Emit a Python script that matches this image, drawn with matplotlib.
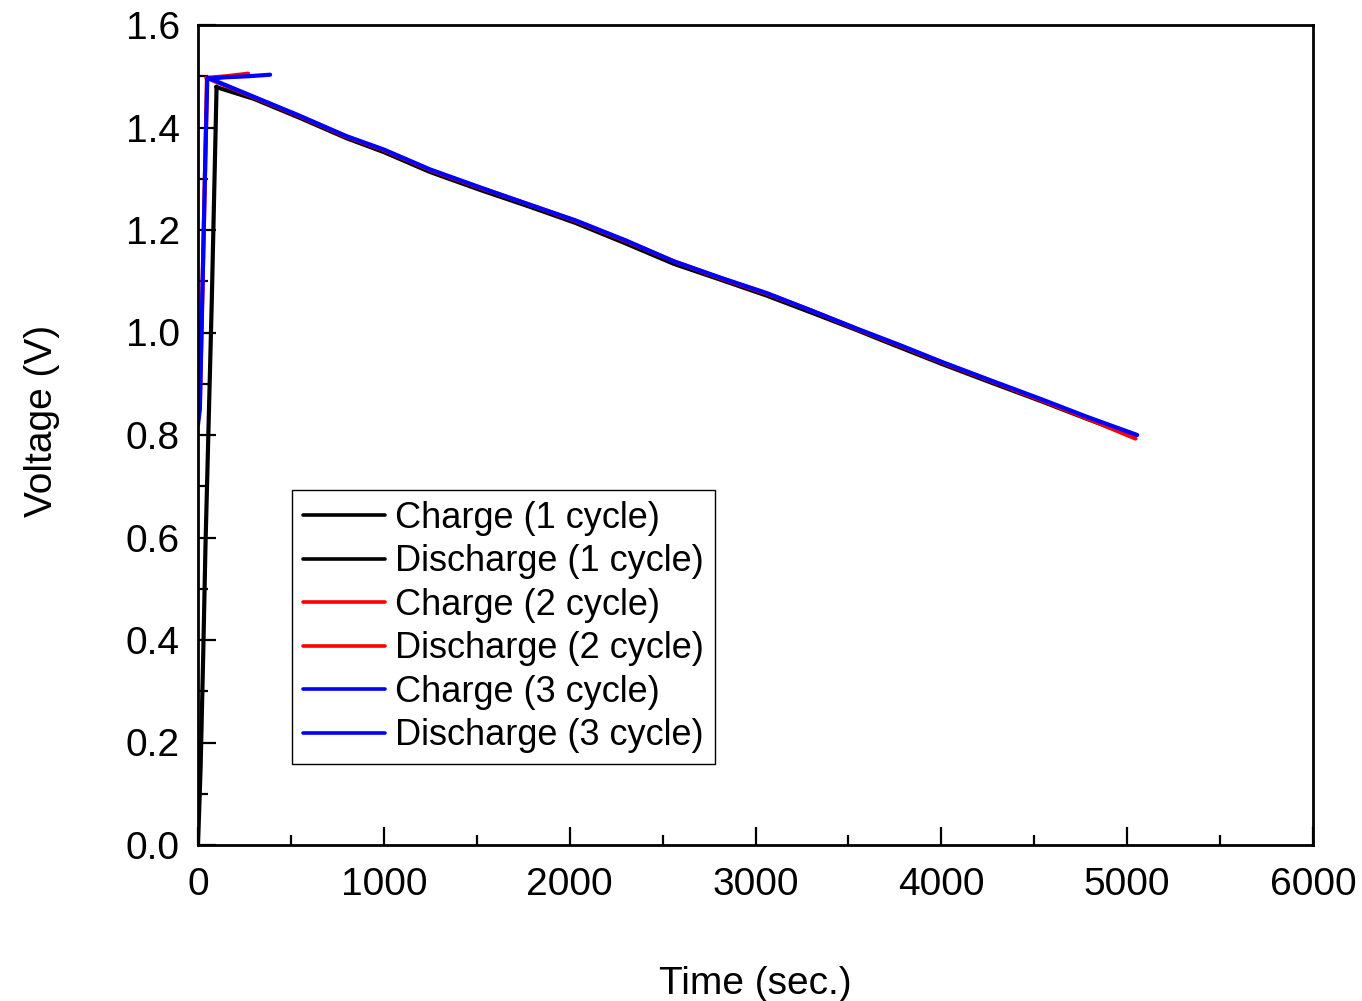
import matplotlib
matplotlib.use("Agg")
import matplotlib.pyplot as plt
from matplotlib.ticker import MultipleLocator

plt.rcParams['font.family'] = ['Liberation Sans', 'DejaVu Sans']

# ---- data ----
charge1_t = [0, 14, 28, 40, 57, 74, 100]
charge1_v = [0.0, 0.15, 0.37, 0.58, 0.82, 1.06, 1.48]

discharge1_t = [97, 300, 540, 800, 1000, 1250, 1520, 1780, 2030, 2300, 2560, 2820,
                3060, 3300, 3550, 3700, 4000, 4270, 4530, 4780, 5040]
discharge1_v = [1.479, 1.456, 1.420, 1.379, 1.352, 1.313, 1.278, 1.246, 1.214, 1.174,
                1.134, 1.102, 1.072, 1.039, 1.004, 0.982, 0.939, 0.902, 0.867, 0.832, 0.797]

charge2_t = [0, 10, 25, 40, 48, 150, 270]
charge2_v = [0.83, 0.86, 1.10, 1.35, 1.497, 1.500, 1.505]

discharge2_t = [45, 300, 540, 800, 1000, 1250, 1520, 1780, 2030, 2300, 2560, 2820,
                3060, 3300, 3550, 3780, 4000, 4270, 4530, 4780, 5045]
discharge2_v = [1.497, 1.459, 1.423, 1.382, 1.356, 1.317, 1.282, 1.250, 1.218, 1.179,
                1.139, 1.105, 1.076, 1.043, 1.006, 0.974, 0.942, 0.905, 0.869, 0.833, 0.793]

charge3_t = [0, 10, 25, 40, 50, 150, 270, 388]
charge3_v = [0.82, 0.85, 1.10, 1.35, 1.495, 1.498, 1.500, 1.503]

discharge3_t = [54, 300, 540, 800, 1000, 1250, 1520, 1780, 2030, 2300, 2560, 2820,
                3060, 3300, 3550, 3780, 4000, 4270, 4530, 4780, 5054]
discharge3_v = [1.497, 1.460, 1.424, 1.383, 1.357, 1.318, 1.283, 1.250, 1.219, 1.180,
                1.139, 1.106, 1.077, 1.043, 1.007, 0.975, 0.943, 0.906, 0.871, 0.836, 0.800]

labels = ["Charge (1 cycle)", "Discharge (1 cycle)",
          "Charge (2 cycle)", "Discharge (2 cycle)",
          "Charge (3 cycle)", "Discharge (3 cycle)"]
colors = ["#000000", "#000000", "#ff0000", "#ff0000", "#0000ff", "#0000ff"]

x_ticks = [0, 1000, 2000, 3000, 4000, 5000, 6000]
y_ticks = [0.0, 0.2, 0.4, 0.6, 0.8, 1.0, 1.2, 1.4, 1.6]

# ---- figure ----
fig = plt.figure(figsize=(13.62, 10.01), dpi=100)
ax = fig.add_axes([198/1362, 1-845/1001, (1313-198)/1362, (845-25)/1001])

series = [(charge1_t, charge1_v), (discharge1_t, discharge1_v),
          (charge2_t, charge2_v), (discharge2_t, discharge2_v),
          (charge3_t, charge3_v), (discharge3_t, discharge3_v)]
lw = 3.0
for (t, v), lab, c in zip(series, labels, colors):
    ax.plot(t, v, color=c, lw=lw, label=lab, solid_capstyle='round',
            solid_joinstyle='round')

ax.set_xlim(0, 6000)
ax.set_ylim(0, 1.6)
ax.set_xticks(x_ticks)
ax.set_yticks(y_ticks)
ax.set_xticklabels([str(v) for v in x_ticks])
ax.set_yticklabels([f"{v:.1f}" for v in y_ticks])
ax.xaxis.set_minor_locator(MultipleLocator(500))
ax.yaxis.set_minor_locator(MultipleLocator(0.1))

ax.tick_params(which='both', direction='in', top=False, right=False, width=1.6)
ax.tick_params(which='major', length=13)
ax.tick_params(which='minor', length=7)
ax.tick_params(axis='x', which='major', pad=16, labelsize=28)
ax.tick_params(axis='y', which='major', pad=13, labelsize=28)
for s in ax.spines.values():
    s.set_linewidth(2.0)

ax.set_xlabel("Time (sec.)", fontsize=28)
ax.set_ylabel("Voltage (V)", fontsize=28)
ax.xaxis.set_label_coords(0.5, -0.147)
ax.yaxis.set_label_coords(-0.124, 0.517)

leg = ax.legend(loc='upper left', bbox_to_anchor=((292-198)/1115, (845-490)/820),
                borderaxespad=0, fontsize=26, frameon=True, fancybox=False,
                edgecolor='black', framealpha=1, handlelength=2.27,
                handletextpad=0.28, labelspacing=0.235, borderpad=0.3)
leg.get_frame().set_linewidth(1.0)
for h in leg.get_lines():
    h.set_linewidth(2.6)

fig.savefig("out.png", dpi=100)
